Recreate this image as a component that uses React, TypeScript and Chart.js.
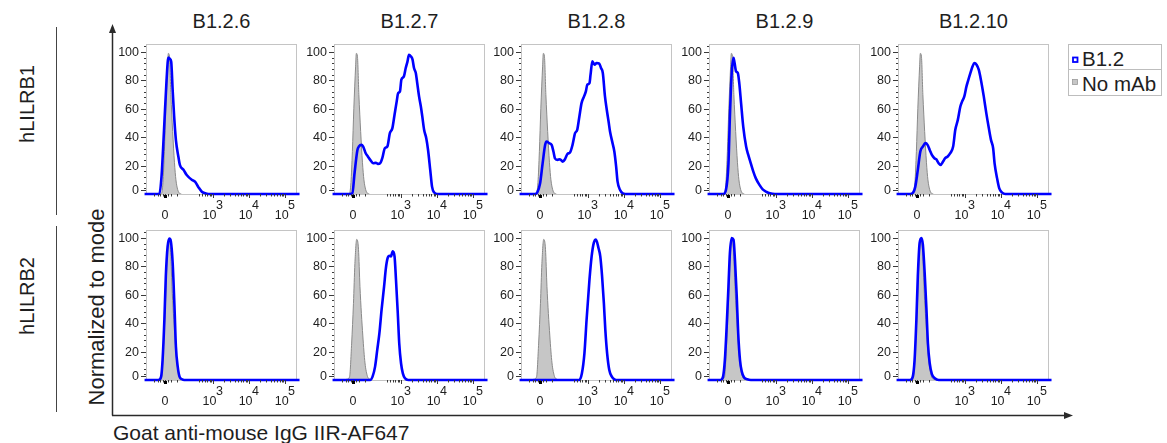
import React, { useEffect, useRef } from "react";
import { Chart, registerables } from "chart.js";

Chart.register(...registerables);

type Pt = [number, number];

// ---------- labels ----------
const PANEL_TITLES = ["B1.2.6", "B1.2.7", "B1.2.8", "B1.2.9", "B1.2.10"];
const ROW_LABELS = ["hLILRB1", "hLILRB2"];
const SERIES_NAMES = ["B1.2", "No mAb"];
const Y_AXIS_TITLE = "Normalized to mode";
const X_AXIS_TITLE = "Goat anti-mouse IgG IIR-AF647";

// ---------- axes (x in display decades of a biexponential axis) ----------
const Y_TICKS = [0, 20, 40, 60, 80, 100];
const X_TICK_VALUES = [1.67, 3, 4, 5];
const X_TICK_BASES = ["0", "10", "10", "10"];
const X_TICK_EXPONENTS = ["", "3", "4", "5"];
const X_LINEAR_MINOR = [1.37, 1.46, 1.53, 1.6, 1.74, 1.83, 1.99];
const X_MIN = 1.14;
const X_MAX = 5.33;
const Y_MAX = 105.6;

// ---------- No mAb control (grey) ----------
const NO_MAB_LILRB1: Pt[] = [
  [1.5, 0], [1.57, 0.5], [1.61, 8], [1.65, 30], [1.69, 60], [1.74, 90], [1.76, 99], [1.79, 97],
  [1.83, 70], [1.88, 44], [1.93, 22], [1.97, 10], [2.02, 3], [2.07, 0.5], [2.12, 0],
];
const NO_MAB_LILRB2: Pt[] = [
  [1.45, 0], [1.49, 0.5], [1.57, 2], [1.63, 26], [1.68, 54], [1.72, 82], [1.77, 99], [1.82, 92],
  [1.86, 66], [1.94, 31], [2.0, 12], [2.07, 2.5], [2.14, 0.5], [2.2, 0],
];

// ---------- B1.2 clones (blue), hLILRB1 row ----------
const B126_LILRB1: Pt[] = [
  [1.1, 0], [1.51, 0], [1.57, 12], [1.64, 45], [1.71, 80], [1.76, 96], [1.81, 95], [1.84, 93],
  [1.88, 73], [1.92, 55], [1.97, 38], [2.04, 26], [2.08, 20.5], [2.18, 17], [2.27, 13.4],
  [2.41, 10], [2.5, 8.7], [2.59, 5], [2.69, 1.6], [2.78, 0.5], [2.87, 0], [5.4, 0],
];
const B127_LILRB1: Pt[] = [
  [1.1, 0], [1.58, 0], [1.65, 0.5], [1.71, 14.6], [1.79, 31], [1.83, 33.4], [1.9, 34.6],
  [1.95, 33.4], [2.02, 28.7], [2.08, 26.4], [2.16, 23.5], [2.23, 21.6], [2.3, 22], [2.36, 21.2],
  [2.42, 21.6], [2.48, 25.2], [2.55, 32.2], [2.62, 33.4], [2.69, 42.8], [2.76, 46.4],
  [2.82, 55.8], [2.88, 65.2], [2.92, 71], [2.97, 72.2], [3.01, 80.5], [3.08, 82.8],
  [3.13, 88.7], [3.18, 93.4], [3.22, 98], [3.27, 97], [3.32, 94.6], [3.36, 88.7], [3.41, 85.2],
  [3.45, 78], [3.5, 68.7], [3.55, 61.6], [3.59, 54.6], [3.64, 45.2], [3.7, 39.3], [3.75, 31],
  [3.81, 17], [3.86, 5.2], [3.92, 1], [4.01, 0], [5.4, 0],
];
const B128_LILRB1: Pt[] = [
  [1.1, 0], [1.53, 0], [1.59, 1], [1.67, 7.5], [1.74, 21.6], [1.81, 34.6], [1.85, 37],
  [1.92, 35.8], [1.99, 34.6], [2.04, 29.9], [2.08, 25.2], [2.15, 24], [2.22, 24.5], [2.3, 22.8],
  [2.36, 24.5], [2.43, 28.2], [2.5, 29.2], [2.57, 34.6], [2.64, 42.8], [2.7, 45.2], [2.76, 54.6],
  [2.82, 64], [2.89, 68.7], [2.94, 72.2], [2.98, 77], [3.04, 78], [3.07, 84], [3.12, 93.4],
  [3.18, 91], [3.24, 92.2], [3.31, 91.8], [3.36, 88.7], [3.41, 85.2], [3.47, 68.7], [3.52, 59.3],
  [3.57, 51], [3.61, 44], [3.68, 35.8], [3.73, 29.9], [3.78, 19.3], [3.82, 8.7], [3.89, 2.8],
  [3.96, 0.5], [4.03, 0], [5.4, 0],
];
const B129_LILRB1: Pt[] = [
  [1.1, 0], [1.54, 0], [1.61, 2.8], [1.68, 21.6], [1.72, 54.6], [1.77, 85.2], [1.82, 95.8],
  [1.85, 92.2], [1.89, 86.4], [1.94, 85.2], [1.98, 78], [2.03, 64], [2.09, 47.5], [2.17, 33.4],
  [2.23, 27.5], [2.3, 21.6], [2.37, 15.8], [2.44, 11], [2.54, 6.4], [2.63, 3.3], [2.74, 1.4],
  [2.83, 0.5], [2.97, 0], [5.4, 0],
];
const B1210_LILRB1: Pt[] = [
  [1.1, 0], [1.48, 0], [1.56, 1], [1.62, 5.2], [1.69, 17], [1.76, 29.9], [1.83, 33.4],
  [1.9, 35.8], [1.96, 34.6], [2.02, 31], [2.08, 27.5], [2.15, 25.2], [2.2, 24.5], [2.27, 21.6],
  [2.32, 20.5], [2.39, 22.8], [2.45, 25.2], [2.52, 26.4], [2.59, 28.7], [2.67, 33.4],
  [2.73, 45.2], [2.8, 52.2], [2.87, 61.6], [2.92, 65.2], [2.98, 68.7], [3.04, 75.8],
  [3.08, 79.3], [3.15, 85.2], [3.21, 89.9], [3.26, 92.2], [3.32, 91], [3.38, 87.5], [3.44, 80.5],
  [3.52, 68.7], [3.59, 56.9], [3.66, 46.4], [3.72, 38.1], [3.78, 32.2], [3.82, 21.6],
  [3.89, 11], [3.95, 4], [4.03, 1], [4.12, 0], [5.4, 0],
];

// ---------- B1.2 clones (blue), hLILRB2 row ----------
const B126_LILRB2: Pt[] = [
  [1.1, 0], [1.49, 0], [1.56, 2.4], [1.6, 14], [1.65, 42.4], [1.69, 73], [1.74, 94],
  [1.79, 99.5], [1.83, 97.6], [1.88, 82.4], [1.93, 51.8], [1.97, 23.5], [2.02, 9.4],
  [2.07, 2.4], [2.14, 0.5], [2.2, 0], [5.4, 0],
];
const B127_LILRB2: Pt[] = [
  [1.1, 0], [2.14, 0], [2.21, 2.4], [2.28, 9.4], [2.34, 21.2], [2.4, 33], [2.46, 49.4],
  [2.53, 65.9], [2.58, 78.8], [2.63, 85.9], [2.68, 87.5], [2.72, 87], [2.77, 90.6], [2.82, 87],
  [2.86, 70.6], [2.91, 47], [2.95, 25.9], [3.0, 11.8], [3.05, 4.7], [3.11, 1.2], [3.2, 0], [5.4, 0],
];
const B128_LILRB2: Pt[] = [
  [1.1, 0], [2.76, 0], [2.83, 4.7], [2.9, 18.8], [2.96, 42.4], [3.04, 70.6], [3.1, 87],
  [3.16, 96.5], [3.22, 98.8], [3.29, 92.9], [3.34, 87], [3.39, 73], [3.44, 54], [3.48, 35.3],
  [3.53, 18.8], [3.59, 7], [3.66, 2.4], [3.73, 0.5], [3.82, 0], [5.4, 0],
];
const B129_LILRB2: Pt[] = [
  [1.1, 0], [1.46, 0], [1.53, 2.4], [1.58, 14], [1.63, 37.6], [1.68, 65.9], [1.72, 89.4],
  [1.77, 100], [1.82, 98.8], [1.86, 84.7], [1.91, 58.8], [1.95, 33], [2.0, 14], [2.05, 5.9],
  [2.11, 1.9], [2.2, 0.5], [2.3, 0], [5.4, 0],
];
const B1210_LILRB2: Pt[] = [
  [1.1, 0], [1.48, 0], [1.55, 2.4], [1.6, 14], [1.65, 42.4], [1.69, 73], [1.74, 96.5],
  [1.79, 100], [1.83, 95.3], [1.88, 75.3], [1.93, 49.4], [1.97, 25.9], [2.02, 11.8],
  [2.08, 4.2], [2.16, 1.2], [2.27, 0], [5.4, 0],
];

const ROWS: { blue: Pt[][]; grey: Pt[] }[] = [
  { blue: [B126_LILRB1, B127_LILRB1, B128_LILRB1, B129_LILRB1, B1210_LILRB1], grey: NO_MAB_LILRB1 },
  { blue: [B126_LILRB2, B127_LILRB2, B128_LILRB2, B129_LILRB2, B1210_LILRB2], grey: NO_MAB_LILRB2 },
];

// ---------- layout ----------
const FONT = '"Liberation Sans", Arial, Helvetica, sans-serif';
const PANEL_LEFTS = [146, 334, 521, 709, 898];
const ROW_TOPS = [44, 230];
const BOX_W = 151;
const BOX_H = 150;
const PAD_L = 42;
const PAD_T = 12;
const PAD_R = 12;
const PAD_B = 40;
const CANVAS_W = BOX_W + PAD_L + PAD_R;
const CANVAS_H = BOX_H + PAD_T + PAD_B;
const BLUE = "#0000ff";
const TEXT = "#1e1e1e";

const flowAxes = {
  id: "flowAxes",
  beforeDatasetsDraw(chart: any) {
    const { ctx, chartArea: a } = chart;
    ctx.save();
    ctx.strokeStyle = "#c4c4c4";
    ctx.lineWidth = 1;
    ctx.strokeRect(a.left + 0.5, a.top + 0.5, a.right - a.left - 1, a.bottom - a.top);
    ctx.restore();
  },
  afterDatasetsDraw(chart: any) {
    const { ctx, chartArea: a, scales } = chart;
    const xs = scales.x;
    const ys = scales.y;
    ctx.save();
    ctx.strokeStyle = "#3a3a3a";
    ctx.fillStyle = TEXT;
    ctx.lineWidth = 1;
    ctx.font = `12.5px ${FONT}`;
    // y minor ticks
    for (let v = 4; v <= 104; v += 4) {
      if (v % 20 === 0) continue;
      const y = Math.round(ys.getPixelForValue(v)) + 0.5;
      ctx.beginPath();
      ctx.moveTo(a.left - 2, y);
      ctx.lineTo(a.left, y);
      ctx.stroke();
    }
    // y major ticks + labels
    ctx.textAlign = "right";
    ctx.textBaseline = "middle";
    for (const v of Y_TICKS) {
      const y = Math.round(ys.getPixelForValue(v) - (v === 0 ? 4 : 0)) + 0.5;
      ctx.beginPath();
      ctx.moveTo(a.left - 5, y);
      ctx.lineTo(a.left, y);
      ctx.stroke();
      ctx.fillText(String(v), a.left - 7, y + 0.5);
    }
    // x minor ticks
    const minors: number[] = [...X_LINEAR_MINOR];
    for (let m = 4; m <= 9; m++) minors.push(2 + Math.log10(m));
    for (let k = 3; k <= 4; k++) for (let m = 2; m <= 9; m++) minors.push(k + Math.log10(m));
    for (const v of minors) {
      const x = Math.round(xs.getPixelForValue(v)) + 0.5;
      ctx.beginPath();
      ctx.moveTo(x, a.bottom);
      ctx.lineTo(x, a.bottom + 2.5);
      ctx.stroke();
    }
    // x major ticks + labels
    X_TICK_VALUES.forEach((v, i) => {
      const x = xs.getPixelForValue(v);
      const xr = Math.round(x) + 0.5;
      ctx.beginPath();
      ctx.moveTo(xr, a.bottom);
      ctx.lineTo(xr, a.bottom + 4);
      ctx.stroke();
      const base = X_TICK_BASES[i];
      const exp = X_TICK_EXPONENTS[i];
      ctx.textAlign = "left";
      ctx.textBaseline = "alphabetic";
      const wb = ctx.measureText(base).width;
      const we = exp ? ctx.measureText(exp).width : 0;
      const start = x - (wb + we) / 2;
      ctx.fillText(base, start, a.bottom + 25);
      if (exp) ctx.fillText(exp, start + wb - 0.5, a.bottom + 15);
      if (i === 0) {
        ctx.fillStyle = "#000";
        ctx.fillRect(Math.round(x) - 1, a.bottom + 1, 3, 3);
        ctx.fillStyle = TEXT;
      }
    });
    ctx.restore();
  },
};

function Panel(props: { left: number; top: number; blue: Pt[]; grey: Pt[] }) {
  const ref = useRef<HTMLCanvasElement>(null);
  const { left, top, blue, grey } = props;
  useEffect(() => {
    const chart = new Chart(ref.current as HTMLCanvasElement, {
      type: "line",
      data: {
        datasets: [
          {
            label: SERIES_NAMES[0],
            data: blue.map(([x, y]) => ({ x, y })),
            borderColor: BLUE,
            borderWidth: 2.6,
            pointRadius: 0,
            fill: false,
            cubicInterpolationMode: "monotone",
            clip: 4,
            order: 0,
          } as any,
          {
            label: SERIES_NAMES[1],
            data: grey.map(([x, y]) => ({ x, y })),
            borderColor: "#8a8a8a",
            backgroundColor: "#c6c6c6",
            borderWidth: 1,
            pointRadius: 0,
            fill: "start",
            cubicInterpolationMode: "monotone",
            order: 1,
          } as any,
        ],
      },
      options: {
        responsive: false,
        animation: false,
        events: [],
        layout: { padding: { left: PAD_L, top: PAD_T, right: PAD_R, bottom: PAD_B } },
        scales: {
          x: { type: "linear", min: X_MIN, max: X_MAX, display: false },
          y: { type: "linear", min: 0, max: Y_MAX, display: false },
        },
        plugins: { legend: { display: false }, tooltip: { enabled: false } },
      },
      plugins: [flowAxes],
    });
    return () => chart.destroy();
  }, [blue, grey]);
  return (
    <canvas
      ref={ref}
      width={CANVAS_W}
      height={CANVAS_H}
      style={{ position: "absolute", left: left - PAD_L, top: top - PAD_T, width: CANVAS_W, height: CANVAS_H }}
    />
  );
}

export default function App() {
  const line = "#2a2a2a";
  return (
    <div style={{ position: "absolute", left: 0, top: 0, width: 1167, height: 443, background: "#fff", overflow: "hidden" }}>
      <svg width={1167} height={443} style={{ position: "absolute", left: 0, top: 0 }} fontFamily={FONT}>
        {PANEL_TITLES.map((t, i) => (
          <text key={t} x={PANEL_LEFTS[i] + BOX_W / 2} y={27.5} fontSize={20} textAnchor="middle" fill={TEXT}>
            {t}
          </text>
        ))}
        {/* row brackets */}
        <line x1={56.5} y1={27} x2={56.5} y2={215} stroke="#444" strokeWidth={1} />
        <line x1={56.5} y1={226} x2={56.5} y2={412} stroke="#444" strokeWidth={1} />
        <text x={27} y={104} fontSize={20} textAnchor="middle" dominantBaseline="central" fill={TEXT} transform="rotate(-90 27 104)">
          {ROW_LABELS[0]}
        </text>
        <text x={27} y={296} fontSize={20} textAnchor="middle" dominantBaseline="central" fill={TEXT} transform="rotate(-90 27 296)">
          {ROW_LABELS[1]}
        </text>
        <text x={96} y={307} fontSize={22} textAnchor="middle" dominantBaseline="central" fill={TEXT} transform="rotate(-90 96 307)">
          {Y_AXIS_TITLE}
        </text>
        {/* axis arrows */}
        <line x1={112.5} y1={415.5} x2={112.5} y2={30} stroke={line} strokeWidth={1.5} />
        <polygon points="112.5,24 109,33 116,33" fill={line} />
        <line x1={112} y1={415.5} x2={1066} y2={415.5} stroke={line} strokeWidth={1.5} />
        <polygon points="1073,415.5 1064,412 1064,419" fill={line} />
        <text x={113} y={440} fontSize={21} fill={TEXT}>
          {X_AXIS_TITLE}
        </text>
        {/* legend */}
        <rect x={1068.5} y={44.5} width={93} height={51} fill="#fff" stroke="#bdbdbd" strokeWidth={1} />
        <line x1={1068.5} y1={69.5} x2={1161.5} y2={69.5} stroke="#bdbdbd" strokeWidth={1} />
        <rect x={1073} y={57.5} width={4.5} height={4.5} fill="#fff" stroke={BLUE} strokeWidth={1.8} />
        <rect x={1072.5} y={79.5} width={5} height={5} fill="#c6c6c6" stroke="#9a9a9a" strokeWidth={0.8} />
        <text x={1082} y={65.5} fontSize={20.5} fill={TEXT}>
          {SERIES_NAMES[0]}
        </text>
        <text x={1082} y={91} fontSize={20.5} fill={TEXT}>
          {SERIES_NAMES[1]}
        </text>
      </svg>
      {ROWS.map((row, r) =>
        row.blue.map((b, c) => (
          <Panel key={`${r}-${c}`} left={PANEL_LEFTS[c]} top={ROW_TOPS[r]} blue={b} grey={row.grey} />
        ))
      )}
    </div>
  );
}
